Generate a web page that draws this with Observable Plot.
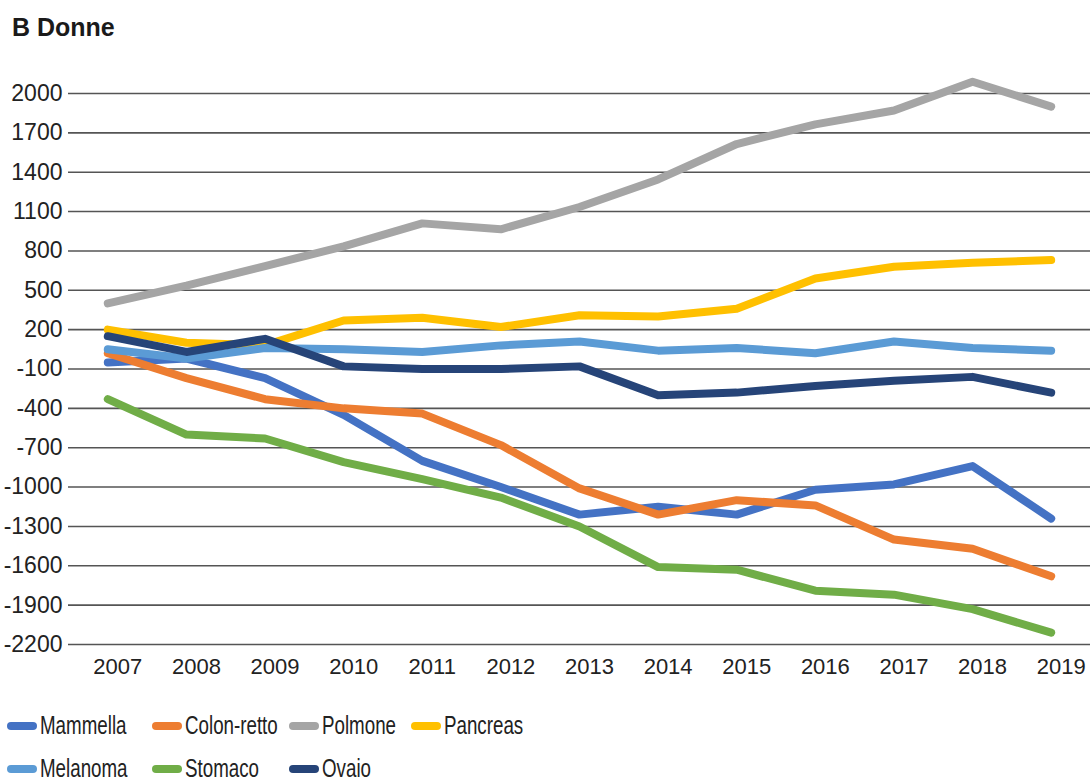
<!DOCTYPE html>
<html><head><meta charset="utf-8">
<script src="https://cdn.jsdelivr.net/npm/d3@7"></script>
<script src="https://cdn.jsdelivr.net/npm/@observablehq/plot@0.6"></script>
<style>
html,body{margin:0;padding:0;background:#fff;overflow:hidden;width:1090px;height:780px;}
#title{height:60px;box-sizing:border-box;padding:13px 0 0 12px;font:bold 25px "Liberation Sans",Arial,sans-serif;color:#1a1a1a;}
#chart svg{display:block;}
#legend{display:grid;grid-template-columns:145px 137px 122px auto;grid-auto-rows:43px;padding-top:4px;padding-left:7px;font:25px "Liberation Sans",Arial,sans-serif;color:#222;}
.item{display:flex;align-items:center;white-space:nowrap;}
.sw{flex:none;width:30px;height:8px;border-radius:4px;margin-right:3px;}
.lbl{display:inline-block;transform:scaleX(0.75);transform-origin:left center;}
</style></head>
<body>
<div id="title">B Donne</div>
<div id="chart"></div>
<div id="legend"></div>
<script>
const years = [2007,2008,2009,2010,2011,2012,2013,2014,2015,2016,2017,2018,2019];
const seriesNames = ["Mammella","Colon-retto","Polmone","Pancreas","Melanoma","Stomaco","Ovaio"];
const seriesColors = ["#4472C4","#ED7D31","#A5A5A5","#FFC000","#5B9BD5","#70AD47","#264478"];
const mammella   = [-50,-20,-170,-450,-800,-1000,-1210,-1150,-1210,-1020,-980,-840,-1240];
const colonRetto = [20,-170,-330,-400,-440,-680,-1010,-1210,-1100,-1140,-1400,-1470,-1680];
const polmone    = [400,535,685,835,1010,965,1135,1345,1615,1765,1870,2090,1900];
const pancreas   = [200,100,80,270,290,220,310,300,360,590,680,710,730];
const melanoma   = [50,-20,60,50,30,80,110,40,60,20,110,60,40];
const stomaco    = [-330,-600,-630,-810,-940,-1080,-1300,-1610,-1630,-1790,-1820,-1930,-2110];
const ovaio      = [150,30,130,-80,-100,-100,-80,-300,-280,-230,-190,-160,-280];
const yTicks = [-2200,-1900,-1600,-1300,-1000,-700,-400,-100,200,500,800,1100,1400,1700,2000];

const seriesValues = [mammella,colonRetto,polmone,pancreas,melanoma,stomaco,ovaio];
const data = seriesNames.flatMap((name,k)=>years.map((year,i)=>({name,year,value:seriesValues[k][i]})));

const plot = Plot.plot({
  width:1090, height:640,
  marginLeft:68, marginRight:0, marginTop:33, marginBottom:56,
  style:{fontFamily:'"Liberation Sans",Arial,sans-serif', fontSize:"23px", color:"#222", background:"#fff"},
  x:{domain:[2006.5,2019.5]},
  y:{domain:[-2200,2000]},
  color:{domain:seriesNames, range:seriesColors},
  marks:[
    Plot.ruleY(yTicks,{stroke:"#555",strokeWidth:1.6}),
    Plot.axisY({ticks:yTicks, tickSize:0, tickPadding:6, tickFormat:d=>String(d), label:null, fontSize:23}),
    Plot.axisX({ticks:years, tickSize:0, tickPadding:14, dx:10, tickFormat:d=>String(d), label:null, fontSize:22}),
    Plot.line(data,{x:"year",y:"value",z:"name",stroke:"name",strokeWidth:8,strokeLinecap:"round",strokeLinejoin:"round"})
  ]
});
document.getElementById("chart").appendChild(plot);

const color = plot.scale("color");
const leg = document.getElementById("legend");
seriesNames.forEach((n,i)=>{
  const it=document.createElement("div"); it.className="item";
  if(i===4) it.style.gridColumn="1";
  const sw=document.createElement("span"); sw.className="sw"; sw.style.background=color.apply(n);
  const t=document.createElement("span"); t.className="lbl"; t.textContent=n;
  it.appendChild(sw); it.appendChild(t); leg.appendChild(it);
});
</script>
</body></html>
